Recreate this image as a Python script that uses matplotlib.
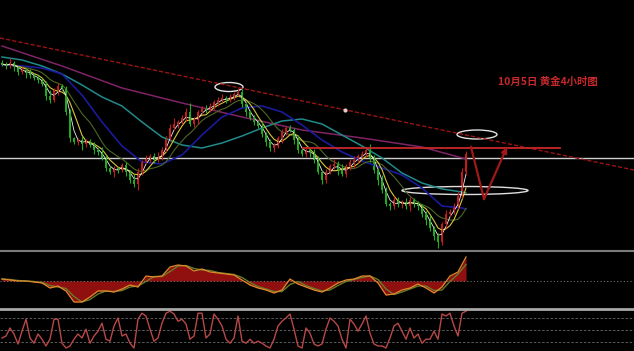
import numpy as np
import pandas as pd
import matplotlib
matplotlib.use('Agg')
import matplotlib.pyplot as plt
from matplotlib.patches import Ellipse
from matplotlib.lines import Line2D

plt.rcParams['font.family'] = ['Noto Sans CJK SC', 'DejaVu Sans']

# 4h closes, one per bar
closes = [1336, 1334, 1337, 1333, 1328, 1330, 1327, 1325, 1322, 1320,
          1316, 1304, 1300, 1310, 1314, 1312, 1288, 1262, 1258, 1260,
          1256, 1259, 1255, 1250, 1248, 1242, 1232, 1228, 1232, 1230,
          1235, 1228, 1220, 1216, 1228, 1238, 1242, 1244, 1240, 1243,
          1250, 1262, 1272, 1276, 1278, 1282, 1288, 1276, 1280, 1288,
          1292, 1290, 1294, 1298, 1300, 1302, 1300, 1303, 1306, 1308,
          1296, 1288, 1282, 1278, 1274, 1266, 1258, 1252, 1254, 1262,
          1268, 1272, 1270, 1260, 1250, 1246, 1250, 1248, 1240, 1228,
          1220, 1228, 1234, 1236, 1230, 1226, 1234, 1238, 1240, 1244,
          1246, 1250, 1242, 1230, 1220, 1210, 1196, 1194, 1200, 1196,
          1198, 1194, 1200, 1196, 1194, 1186, 1180, 1172, 1164, 1158,
          1176, 1186, 1188, 1194, 1204, 1228, 1246]
up_wick = [3, 2, 5, 2, 1, 3, 2, 4, 2, 3, 2, 3, 6, 2, 3, 2, 2, 3, 1, 2,
           4, 2, 2, 3, 2, 5, 3, 2, 2, 1, 2, 3, 2, 6, 4, 2, 3, 2, 3, 5,
           3, 2, 4, 6, 2, 3, 4, 9, 3, 2, 2, 3, 3, 2, 3, 4, 2, 3, 2, 4,
           3, 2, 2, 3, 2, 5, 2, 3, 3, 2, 3, 2, 3, 2, 5, 2, 3, 2, 3, 4,
           2, 3, 2, 5, 3, 6, 2, 3, 4, 2, 3, 2, 6, 3, 2, 5, 3, 2, 4, 3,
           2, 4, 3, 2, 3, 2, 3, 5, 2, 3, 2, 4, 3, 3, 5, 4, 3]
dn_wick = [2, 3, 2, 4, 3, 2, 5, 3, 2, 3, 2, 4, 3, 2, 5, 2, 3, 4, 2, 3,
           6, 3, 2, 4, 3, 2, 3, 2, 5, 3, 2, 4, 3, 3, 6, 3, 2, 4, 3, 2,
           3, 2, 3, 2, 4, 2, 3, 2, 3, 4, 2, 3, 2, 3, 4, 2, 3, 2, 3, 2,
           3, 4, 2, 3, 2, 3, 4, 3, 4, 2, 5, 3, 2, 4, 3, 2, 3, 5, 3, 2,
           4, 3, 2, 3, 5, 2, 3, 4, 6, 3, 2, 3, 4, 3, 5, 3, 2, 4, 3, 3,
           4, 3, 5, 3, 4, 3, 5, 3, 4, 6, 3, 4, 3, 2, 3, 2, 3]

# longer moving averages, sampled every 5 bars
ma_idx = [0, 5, 10, 15, 20, 25, 30, 35, 40, 45, 50, 55, 60, 65, 70, 75,
          80, 85, 90, 95, 100, 105, 110, 115, 116]
blue_ma = [1335, 1334, 1332, 1326, 1305, 1278, 1254, 1238, 1236, 1245,
           1265, 1283, 1292, 1294, 1288, 1275, 1260, 1248, 1239, 1232,
           1225, 1212, 1194, 1192, 1191]
cyan_ma = [1343, 1340, 1334, 1326, 1315, 1303, 1294, 1278, 1263, 1255,
           1252, 1257, 1264, 1272, 1279, 1281, 1276, 1265, 1254, 1242,
           1227, 1217, 1211, 1208, 1207]
mag_idx = [0, 15, 30, 45, 60, 75, 90, 105, 116]
mag_ma = [1354, 1334, 1312, 1297, 1283, 1270, 1262, 1253, 1241]

# macd panel, every 2 bars
macd_idx = list(range(0, 117, 2))
macd = [2, 1, 0, 0, -1, -2, -7, -5, -10, -21, -21, -16, -10, -10, -11,
        -8, -4, -6, 5, 4, 5, 14, 16, 15, 10, 12, 9, 8, 7, 6, 1, -4, -7,
        -9, -12, -9, 2, -3, -6, -9, -11, -7, -2, 1, 2, 5, 5, -2, -14,
        -13, -9, -7, -3, -7, -12, -6, 5, 9, 24]

# stochastic panel, one per bar
stoch = [30, 35, 55, 40, 15, 47, 77, 30, 17, 40, 27, 10, 27, 77, 77, 17,
         5, 10, 27, 40, 30, 52, 17, 35, 47, 67, 27, 22, 60, 80, 35, 40,
         17, 5, 77, 92, 85, 52, 22, 30, 67, 92, 97, 90, 72, 77, 65, 27,
         35, 92, 92, 30, 40, 90, 77, 60, 27, 17, 30, 85, 22, 17, 27, 17,
         22, 17, 10, 5, 27, 60, 72, 80, 90, 52, 10, 5, 55, 42, 15, 10,
         15, 52, 80, 72, 60, 27, 5, 77, 65, 47, 65, 85, 42, 15, 10, 10,
         5, 30, 60, 67, 47, 27, 55, 30, 40, 17, 27, 27, 47, 27, 90, 85,
         92, 60, 35, 92, 97]

title = '10月5日 黄金4小时图'

closes = np.array(closes, dtype=float)
n = len(closes)
x = np.arange(n)
opens = np.r_[closes[0] + 1, closes[:-1]]
highs = np.maximum(opens, closes) + np.array(up_wick)
lows = np.minimum(opens, closes) - np.array(dn_wick)
up = closes > opens

fig = plt.figure(figsize=(6.34, 3.51), dpi=100, facecolor='black')
H = 351.0
ax1 = fig.add_axes([0, 101 / H, 1, 250 / H])
ax2 = fig.add_axes([0, 43 / H, 1, 56 / H])
ax3 = fig.add_axes([0, 0, 1, 41 / H])
for ax in (ax1, ax2, ax3):
    ax.set_facecolor('black')
    ax.set_xlim(-0.5, 158)
    ax.set_xticks([])
    ax.set_yticks([])
    for s in ax.spines.values():
        s.set_visible(False)

# main panel
ax1.set_ylim(1150, 1400)
ax1.axhline(1242, color='#cfcfcf', lw=1)
ax1.plot([-0.5, 158], [1362, 1230], color='#9a1414', lw=1, ls=(0, (3, 1.5)))
ax1.plot(mag_idx, mag_ma, color='#7e2466', lw=1.1)
ax1.plot(ma_idx, cyan_ma, color='#218a8a', lw=1.1)
ax1.plot(ma_idx, blue_ma, color='#1a1a9c', lw=1.2)

s = pd.Series(closes)
ax1.plot(x, s.rolling(10, min_periods=1).mean(), color='#4e6626', lw=0.8)
ax1.plot(x, s.rolling(5, min_periods=1).mean(), color='#d8c83c', lw=0.8)
ax1.plot(x, s.rolling(3, min_periods=1).mean(), color='#eeeeee', lw=0.6)

col = np.where(up, '#c41c1c', '#22aa22')
ax1.vlines(x, lows, highs, colors=col, lw=0.8)
body = np.where(np.abs(closes - opens) < 1, 1, closes - opens)
ax1.bar(x, body, bottom=opens, width=0.6, color=col, linewidth=0)

ax1.plot([75.25, 139.5], [1252, 1252], color='#c82828', lw=1.3)
ax1.plot([85.75], [1290], 'o', color='#e8c8c8', ms=2)

for cx, cy, w, h in [(56.75, 1313, 7, 9), (118.75, 1265.5, 10, 9),
                     (115.75, 1209.5, 31.5, 8)]:
    ax1.add_patch(Ellipse((cx, cy), w, h, fill=False, ec='#e0e0e0', lw=1))

ax1.plot([117.25, 120.5], [1253, 1201], color='#a01818', lw=1.6)
ax1.annotate('', xy=(126.25, 1253), xytext=(120.5, 1201),
             arrowprops=dict(arrowstyle='-|>', color='#a01818', lw=1.6,
                             mutation_scale=8, shrinkA=0, shrinkB=0))

ax1.text(124, 1318, title, color='#c8282a', fontsize=7.5,
         fontweight='bold', va='center', ha='left')

# macd panel
ax2.set_ylim(-27, 29)
ax2.axhline(0, color='#707070', lw=0.8, ls=(0, (1, 2)))
ax2.fill_between(macd_idx, macd, 0, color='#901010', lw=0)
m = pd.Series(macd, dtype=float)
ax2.plot(macd_idx, m.rolling(2, min_periods=1).mean(), color='#6a7a2a', lw=1)
ax2.plot(macd_idx, macd, color='#e08a2a', lw=0.9)

# stochastic panel
ax3.set_ylim(-2.5, 100)
for lvl in (80, 50, 20):
    ax3.axhline(lvl, color='#6a6a6a', lw=0.6, ls=(0, (3, 2)))
ax3.plot(x, stoch, color='#b84848', lw=1)

# panel separators
fig.add_artist(Line2D([0, 1], [100 / H, 100 / H], color='#7a7a7a', lw=1.5))
fig.add_artist(Line2D([0, 1], [42 / H, 42 / H], color='#a8a8a8', lw=2))

fig.savefig('out.png', dpi=100, facecolor='black')
